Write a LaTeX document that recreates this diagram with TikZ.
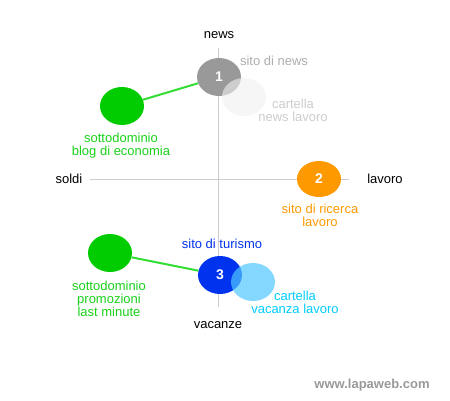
\documentclass[tikz,border=0pt]{standalone}
\usepackage{fontspec}
\setmainfont{Liberation Sans}
\usetikzlibrary{shapes.geometric}

\definecolor{axisgray}{HTML}{CCCCCC}
\definecolor{newsgray}{HTML}{999999}
\definecolor{palegray}{HTML}{F0F0F0}
\definecolor{subgreen}{HTML}{00CC00}
\definecolor{linkgreen}{HTML}{33DD33}
\definecolor{joborange}{HTML}{FF9900}
\definecolor{tripblue}{HTML}{0033EE}
\definecolor{skyblue}{HTML}{50C8FF}
\definecolor{skytext}{HTML}{00CCFF}

\begin{document}
\begin{tikzpicture}[x=1pt,y=-1pt,
    font=\fontsize{13}{13}\selectfont,
    blob/.style={ellipse, minimum width=44pt, minimum height=38pt, inner sep=0pt},
    num/.style={blob, text=white, font=\fontsize{14}{14}\selectfont\bfseries},
    lbl/.style={align=center, inner sep=0pt}]
   \useasboundingbox (0,0) rectangle (450,400);

   % axes
   \draw[axisgray] (218,48) -- (218,307);
   \draw[axisgray] (90,179) -- (349,179);
   \node[lbl] (news) at (219,35) {news};
   \node[lbl] (vacanze) at (218,325) {vacanze};
   \node[lbl] (soldi) at (69,179) {soldi};
   \node[lbl] (lavoro) at (385,179) {lavoro};

   % quadrant 1
   \node[num, fill=newsgray] (s1) at (219,77) {1};
   \node[blob, fill=palegray, opacity=0.6] (c1) at (244,97) {};
   \node[blob, fill=subgreen] (g1) at (122,106) {};
   \draw[linkgreen, line width=2pt] (g1) -- (s1);
   \node[lbl, text=newsgray!80] (t1) at (274,61) {sito di news};
   \node[lbl, text=black!20] (tc1) at (293,110) {cartella\\news lavoro};
   \node[lbl, text=subgreen!90!white] (tg1) at (121,146) {sottodominio\\blog di economia};

   % quadrant 2
   \node[num, fill=joborange, minimum height=36pt] (s2) at (319,179) {2};
   \node[lbl, text=joborange] (t2) at (320,215) {sito di ricerca\\lavoro};

   % quadrant 3
   \node[blob, fill=subgreen] (g3) at (110,253) {};
   \node[num, fill=tripblue] (s3) at (220,275) {3};
   \node[blob, fill=skyblue, opacity=0.7] (c3) at (253,282) {};
   \draw[linkgreen, line width=2pt] (g3) -- (s3);
   \node[lbl, text=tripblue] (t3) at (222,244) {sito di turismo};
   \node[lbl, text=skytext] (tc3) at (295,302) {cartella\\vacanza lavoro};
   \node[lbl, text=subgreen!90!white] (tg3) at (109,299) {sottodominio\\promozioni\\last minute};

   % footer
   \node[lbl, text=newsgray, font=\fontsize{13}{13}\selectfont\bfseries] (site) at (372,385) {www.lapaweb.com};
\end{tikzpicture}
\end{document}
